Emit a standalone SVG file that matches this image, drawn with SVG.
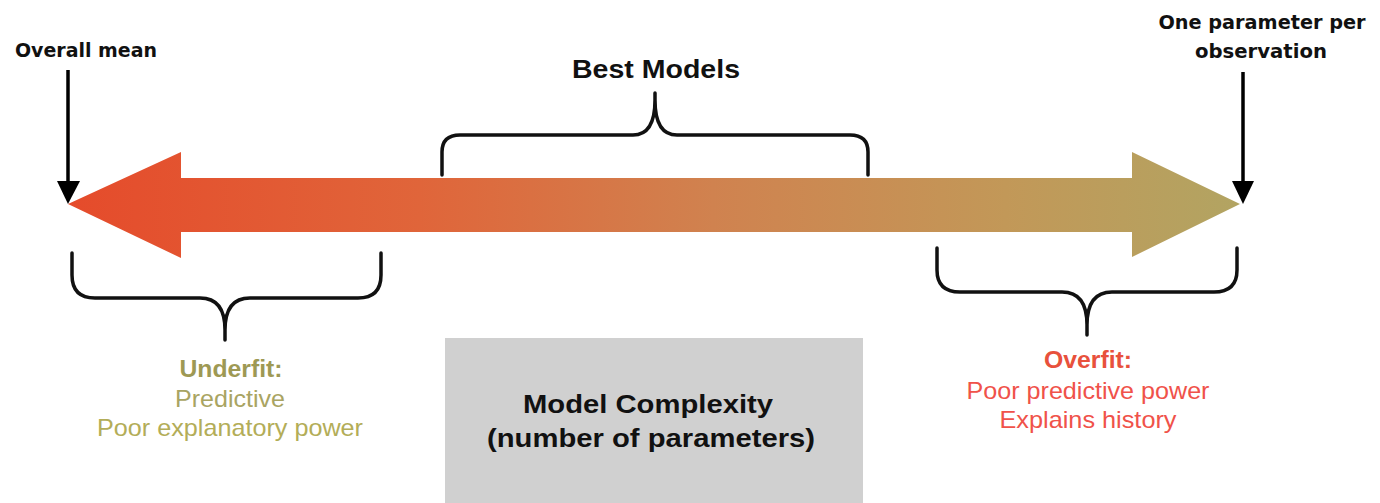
<svg xmlns="http://www.w3.org/2000/svg" width="1380" height="503" viewBox="0 0 1380 503">
  <style>
    .lbl { font-family: "DejaVu Sans", Verdana, sans-serif; font-weight: bold; font-size: 19px; fill: #111; text-anchor: middle; }
    .big { font-family: "Liberation Sans", Arial, sans-serif; font-weight: bold; font-size: 25.5px; fill: #111; text-anchor: middle; }
    .note { font-family: "Liberation Sans", Arial, sans-serif; font-size: 24px; text-anchor: middle; }
    .brace { fill: none; stroke: #111; stroke-width: 3.5; stroke-linecap: round; stroke-linejoin: round; }
    .pointer { stroke: #000; stroke-width: 3.5; }
  </style>
  <defs>
    <linearGradient id="scale" x1="68" y1="0" x2="1240" y2="0" gradientUnits="userSpaceOnUse">
      <stop offset="0" stop-color="#E54B2B"/>
      <stop offset="0.3" stop-color="#E0653A"/>
      <stop offset="0.55" stop-color="#D0824F"/>
      <stop offset="0.8" stop-color="#C29858"/>
      <stop offset="1" stop-color="#B2A462"/>
    </linearGradient>
  </defs>
  <rect width="1380" height="503" fill="#fff"/>

  <!-- complexity scale: double-headed arrow -->
  <g id="scale-arrow">
    <polygon points="68,204 181,152 181,178 1132,178 1132,152 1240,204 1132,257 1132,232 181,232 181,258" fill="url(#scale)"/>
  </g>

  <!-- end-point labels -->
  <g id="overall-mean">
    <text class="lbl" x="86" y="57" textLength="142" lengthAdjust="spacingAndGlyphs">Overall mean</text>
  </g>
  <g id="one-per-observation">
    <text class="lbl" x="1262" y="29" textLength="207" lengthAdjust="spacingAndGlyphs">One parameter per</text>
    <text class="lbl" x="1261" y="58" textLength="132" lengthAdjust="spacingAndGlyphs">observation</text>
  </g>

  <g id="best-models">
    <text class="big" x="656" y="78" textLength="168" lengthAdjust="spacingAndGlyphs">Best Models</text>
  </g>

  <g id="underfit">
    <text class="note" x="231" y="377" font-weight="bold" fill="#9E9954" textLength="103" lengthAdjust="spacingAndGlyphs">Underfit:</text>
    <text class="note" x="230" y="407" fill="#A9A462" textLength="110" lengthAdjust="spacingAndGlyphs">Predictive</text>
    <text class="note" x="230" y="436" fill="#B3AD58" textLength="266" lengthAdjust="spacingAndGlyphs">Poor explanatory power</text>
  </g>

  <g id="overfit">
    <text class="note" x="1088" y="368" font-weight="bold" fill="#E8513C" textLength="88" lengthAdjust="spacingAndGlyphs">Overfit:</text>
    <text class="note" x="1088" y="399" fill="#F0524A" textLength="243" lengthAdjust="spacingAndGlyphs">Poor predictive power</text>
    <text class="note" x="1088" y="428" fill="#F0524A" textLength="177" lengthAdjust="spacingAndGlyphs">Explains history</text>
  </g>

  <g id="model-complexity">
    <rect x="445" y="338" width="418" height="170" fill="#D0D0D0"/>
    <text class="big" x="648" y="413" textLength="250" lengthAdjust="spacingAndGlyphs">Model Complexity</text>
    <text class="big" x="651" y="447" textLength="328" lengthAdjust="spacingAndGlyphs">(number of parameters)</text>
  </g>

  <!-- connectors: pointers and braces -->
  <g id="connectors">
    <line class="pointer" x1="68" y1="70" x2="68" y2="186"/>
    <polygon points="57,181 80,181 68,204" fill="#000"/>
    <line class="pointer" x1="1243" y1="72" x2="1243" y2="186"/>
    <polygon points="1232,181 1254,181 1243,204" fill="#000"/>

    <path class="brace" d="M442,175 V152 Q442,135 460,135 H633 Q655,135 655,100 V93 M655,100 Q655,135 677,135 H850 Q868,135 868,152 V175"/>
    <path class="brace" d="M72,253 V275 Q72,298 95,298 H200 Q225,298 225,330 V340 M225,330 Q225,298 250,298 H358 Q381,298 381,275 V253"/>
    <path class="brace" d="M937,248 V270 Q937,292 960,292 H1062 Q1087,292 1087,325 V335 M1087,325 Q1087,292 1112,292 H1214 Q1237,292 1237,270 V248"/>
  </g>
</svg>
